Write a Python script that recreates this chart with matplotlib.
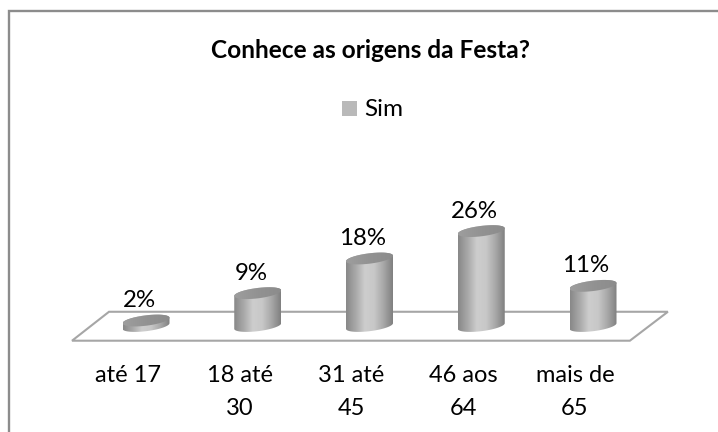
import numpy as np
import matplotlib
matplotlib.use("Agg")
import matplotlib.pyplot as plt
from matplotlib.colors import LinearSegmentedColormap
from matplotlib.lines import Line2D
from matplotlib.patches import Polygon, Rectangle

W, H = 718, 432

categories = ["até 17", "18 até\n30", "31 até\n45", "46 aos\n64", "mais de\n65"]
values = [1.5, 9, 18.5, 26, 11]
value_labels = ["2%", "9%", "18%", "26%", "11%"]
title = "Conhece as origens da Festa?"
legend_label = "Sim"

plt.rcParams["font.family"] = ["Lato", "DejaVu Sans"]

# pixel scales of the original chart
px_cat = 111.75
px_val = 3.65
x0_px = 146
y0_px = 326
half_w = 23.5 / px_cat   # cylinder half width, category units
ell_b = 5.2 / px_val     # ellipse half height, value units
shear = 2.8 / px_val     # right side of the ellipse sits higher
pt = 0.72                # pixels to points

fig = plt.figure(figsize=(W / 100, H / 100), dpi=100)
ax = fig.add_axes([0, 0, 1, 1])
ax.axis("off")

# chart frame, only left and top edges show
fig.add_artist(Line2D([8.6 / W, 8.6 / W, 1], [0, 1 - 11.3 / H, 1 - 11.3 / H],
                      transform=fig.transFigure, color="#8c8c8c", lw=1.7,
                      solid_joinstyle="miter"))

# floor
floor = Polygon([(-0.662, -4.03), (-0.331, 3.9), (4.67, 3.9), (4.33, -4.03)],
                closed=True, fill=False, ec="#a6a6a6", lw=1.5, zorder=1)
ax.add_patch(floor)

body_cmap = LinearSegmentedColormap.from_list(
    "body", ["#888888", "#a8a8a8", "#cdcdcd", "#c8c8c8", "#a8a8a8", "#808080"])
top_cmap = LinearSegmentedColormap.from_list(
    "top", ["#9e9e9e", "#929292", "#8c8c8c"])
grad = np.linspace(0, 1, 128).reshape(1, -1)


def ellipse_pts(x, y, t):
    return (x + half_w * np.cos(t),
            y + ell_b * np.sin(t) + shear * np.cos(t))


for i, (v, lab) in enumerate(zip(values, value_labels)):
    # body: bottom half of the base ellipse, then up to the top ellipse
    bx, by = ellipse_pts(i, 0, np.linspace(np.pi, 2 * np.pi, 40))
    tx, ty = ellipse_pts(i, v, np.linspace(0, np.pi, 40))
    body = Polygon(np.r_[np.c_[bx, by], np.c_[tx, ty]],
                   closed=True, fc="none", ec="none", zorder=2)
    ax.add_patch(body)
    ext = [i - half_w, i + half_w, -10, 40]
    im = ax.imshow(grad, extent=ext, aspect="auto", cmap=body_cmap, vmin=0, vmax=1, zorder=2)
    im.set_clip_path(body)

    # top cap
    cx, cy = ellipse_pts(i, v, np.linspace(0, 2 * np.pi, 80))
    cap = Polygon(np.c_[cx, cy], closed=True, fc="none", ec="none", zorder=3)
    ax.add_patch(cap)
    im2 = ax.imshow(grad, extent=ext, aspect="auto", cmap=top_cmap, vmin=0, vmax=1, zorder=3)
    im2.set_clip_path(cap)

    ax.annotate(lab, (i, v), xytext=(-7 * pt, 20 * pt), textcoords="offset points",
                ha="center", va="center", fontsize=17.3, color="black", zorder=4)
    ax.annotate(categories[i], (i, 0), xytext=(-18 * pt, -39.5 * pt), textcoords="offset points",
                ha="center", va="top", fontsize=17, color="black",
                linespacing=1.65, annotation_clip=False)

ax.set_xlim(-x0_px / px_cat, (W - x0_px) / px_cat)
ax.set_ylim((y0_px - H) / px_val, y0_px / px_val)

fig.text(370.5 / W, 1 - 50 / H, title, ha="center", va="center",
         fontsize=17.6, fontweight="bold", color="black")
fig.patches.append(Rectangle((342 / W, 1 - 116 / H), 15 / W, 15 / H,
                             transform=fig.transFigure, fc="#b9b9b9", ec="none"))
fig.text(364 / W, 1 - 109 / H, legend_label, ha="left", va="center",
         fontsize=17.5, color="black")

fig.savefig("out.png", dpi=100)
